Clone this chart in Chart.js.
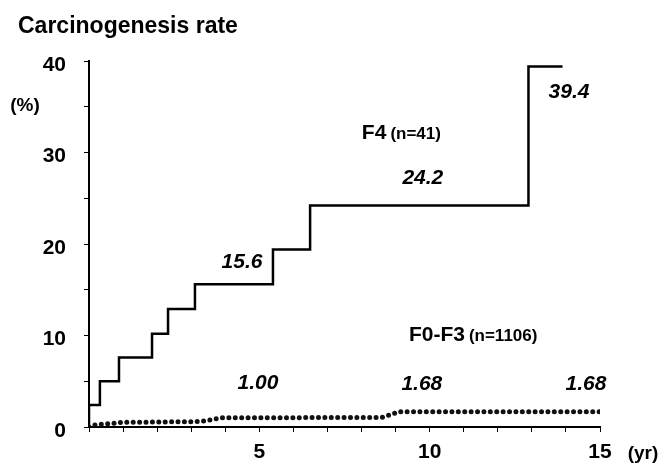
<!DOCTYPE html>
<html lang="en">
<head>
    <meta charset="UTF-8">
    <title>Carcinogenesis rate</title>
    <script src="https://cdn.jsdelivr.net/npm/chart.js"></script>
    <style>
        body {
            margin: 0;
            background: #fff;
        }
        #wrap {
            width: 664px;
            height: 467px;
        }
    </style>
</head>
<body>
    <div id="wrap"><canvas id="chart" width="664" height="467"></canvas></div>

    <script>
        // F4 group (n=41), cumulative rate in % by year
        const f4Years = [0, 0, 0.32, 0.88, 1.85, 2.32, 3.11, 5.4, 6.49, 12.9, 13.9];
        const f4Rates = [0, 2.4, 5.0, 7.6, 10.2, 12.9, 15.6, 19.4, 24.2, 39.4, 39.4];

        // F0-F3 group (n=1106)
        const lowYears = [0, 0.1, 0.97, 3.3, 3.6, 3.9, 8.6, 8.9, 9.1, 15];
        const lowRates = [0, 0.2, 0.5, 0.6, 0.8, 1.0, 1.05, 1.4, 1.68, 1.68];

        const xTickLabels = [5, 10, 15];
        const yTickLabels = [0, 10, 20, 30, 40];

        // text labels on the plot: [text, year, rate]
        const rateLabels = [
            ['15.6', 4.49, 18.0],
            ['24.2', 9.8, 27.2],
            ['39.4', 14.09, 36.6],
            ['1.00', 4.96, 4.8],
            ['1.68', 9.77, 4.7],
            ['1.68', 14.59, 4.7]
        ];
        const groupLabels = [
            ['F4', '(n=41)', 8.01, 32.1],
            ['F0-F3', '(n=1106)', 9.39, 10.05]
        ];

        const FONT = '"Liberation Sans", Arial, sans-serif';

        const toPoints = (xs, ys) => xs.map((x, i) => ({ x: x, y: ys[i] }));

        const textPlugin = {
            id: 'texts',
            afterDraw(chart) {
                const c = chart.ctx;
                const sx = chart.scales.x, sy = chart.scales.y;
                c.save();
                c.fillStyle = '#000';
                c.textBaseline = 'middle';

                c.font = 'bold 23px ' + FONT;
                c.textAlign = 'left';
                c.fillText('Carcinogenesis rate', 18, 27);

                c.font = 'bold 19px ' + FONT;
                c.textAlign = 'center';
                c.fillText('(%)', 25, 106);
                c.fillText('(yr)', 643, 454);

                c.font = 'italic bold 21px ' + FONT;
                rateLabels.forEach(([t, x, y]) => {
                    c.fillText(t, sx.getPixelForValue(x), sy.getPixelForValue(y));
                });

                c.textAlign = 'left';
                groupLabels.forEach(([name, n, x, y]) => {
                    const px = sx.getPixelForValue(x), py = sy.getPixelForValue(y);
                    c.font = 'bold 21px ' + FONT;
                    c.fillText(name, px, py);
                    const w = c.measureText(name).width + 4;
                    c.font = 'bold 17px ' + FONT;
                    c.fillText(n, px + w, py + 1);
                });
                c.restore();
            }
        };

        new Chart(document.getElementById('chart'), {
            type: 'line',
            data: {
                datasets: [{
                    label: 'F4 (n=41)',
                    data: toPoints(f4Years, f4Rates),
                    stepped: 'before',
                    borderColor: '#000',
                    borderWidth: 2.5,
                    pointRadius: 0,
                    fill: false
                }, {
                    label: 'F0-F3 (n=1106)',
                    data: toPoints(lowYears, lowRates),
                    borderColor: '#111',
                    borderWidth: 5,
                    borderDash: [0, 6.4],
                    borderCapStyle: 'round',
                    pointRadius: 0,
                    tension: 0,
                    fill: false
                }]
            },
            options: {
                responsive: false,
                animation: false,
                layout: {
                    padding: { left: 0, right: 64, top: 61, bottom: 0 }
                },
                plugins: {
                    legend: { display: false },
                    tooltip: { enabled: false }
                },
                scales: {
                    x: {
                        type: 'linear',
                        min: 0,
                        max: 15,
                        afterFit: s => { s.height = 40; },
                        grid: {
                            drawOnChartArea: false,
                            color: '#000',
                            tickLength: 5
                        },
                        border: { color: '#000', width: 2 },
                        ticks: {
                            stepSize: 1,
                            autoSkip: false,
                            maxRotation: 0,
                            padding: 8,
                            color: '#000',
                            font: { family: FONT, size: 21, weight: 'bold' },
                            callback: v => xTickLabels.includes(v) ? String(v) : ''
                        }
                    },
                    y: {
                        min: 0,
                        max: 40,
                        afterFit: s => { s.width = 89; },
                        grid: {
                            drawOnChartArea: false,
                            color: '#000',
                            tickLength: 5
                        },
                        border: { color: '#000', width: 2 },
                        ticks: {
                            stepSize: 5,
                            autoSkip: false,
                            padding: 18,
                            labelOffset: 4,
                            color: '#000',
                            font: { family: FONT, size: 21, weight: 'bold' },
                            callback: v => yTickLabels.includes(v) ? String(v) : ''
                        }
                    }
                }
            },
            plugins: [textPlugin]
        });
    </script>
</body>
</html>
